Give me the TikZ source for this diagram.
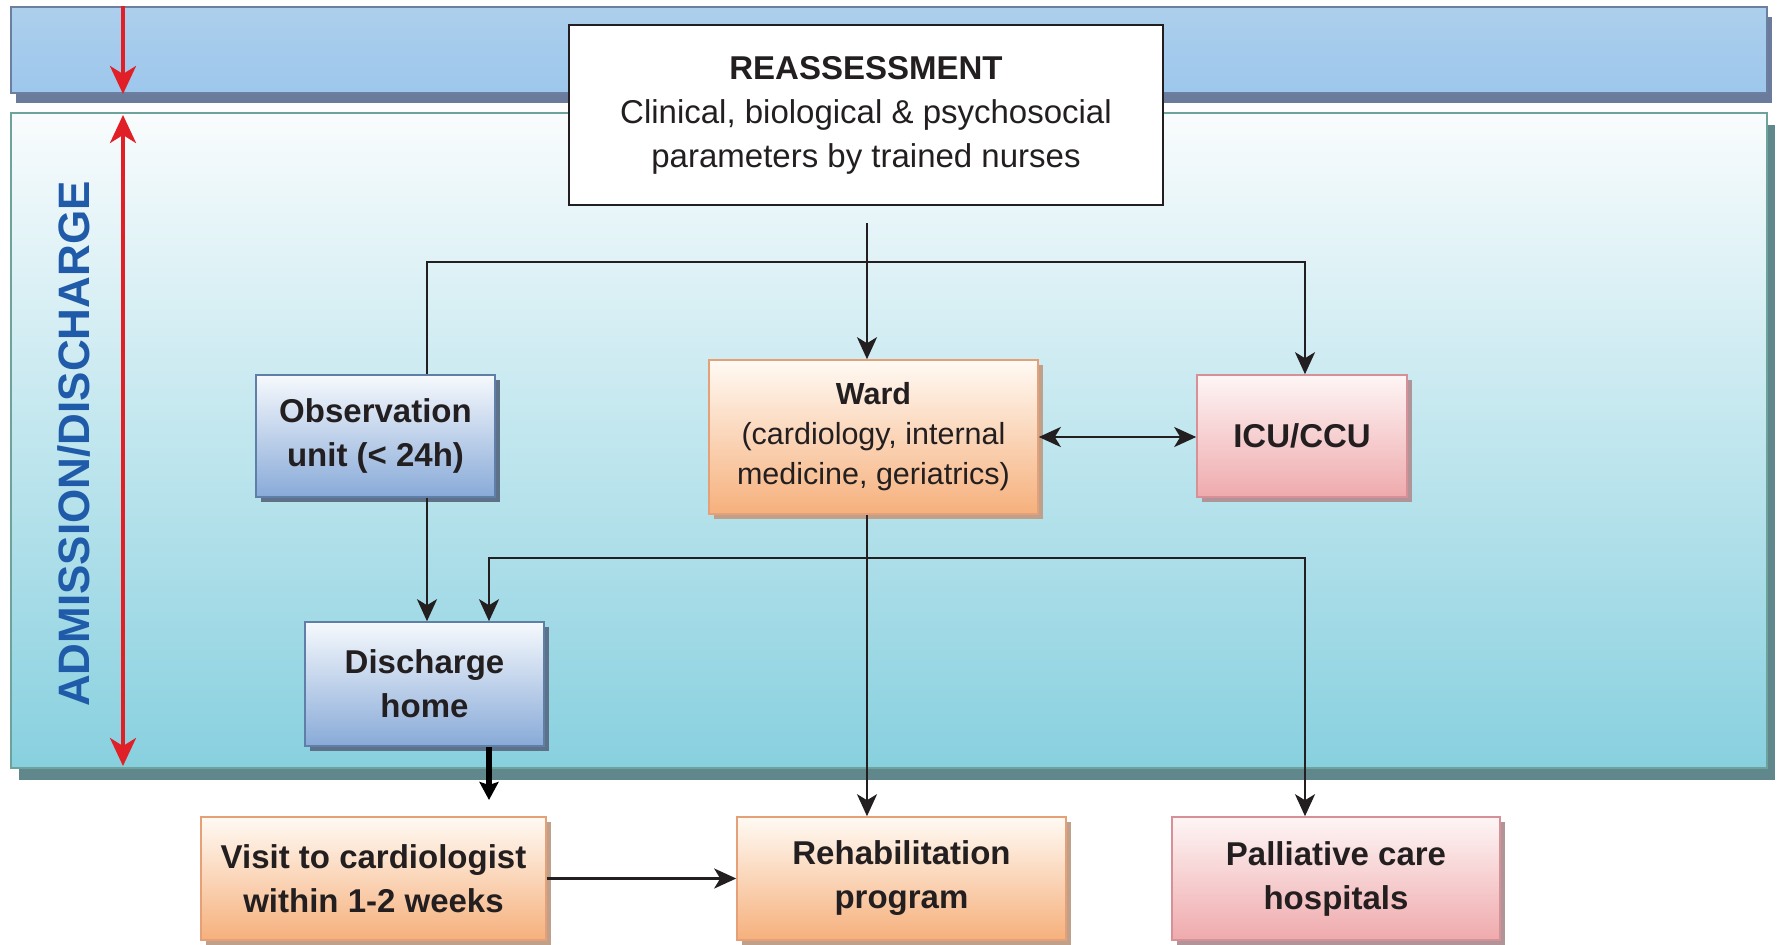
\documentclass[tikz,border=0pt]{standalone}
\usepackage{fontspec}
\setmainfont{Liberation Sans}
\usetikzlibrary{arrows.meta,fit,shadows,calc}

% palette
\definecolor{bandtop}{HTML}{ACCFEC}
\definecolor{bandbot}{HTML}{9DC7EC}
\definecolor{bandedge}{HTML}{6C7FA0}
\definecolor{bandshadow}{HTML}{6B7B9C}
\definecolor{stagetop}{HTML}{F9FCFD}
\definecolor{stagebot}{HTML}{88D0DF}
\definecolor{stageedge}{HTML}{6EA39C}
\definecolor{stageshadow}{HTML}{60878C}
\definecolor{bluetop}{HTML}{F6F9FD}
\definecolor{bluebot}{HTML}{88AAD8}
\definecolor{blueedge}{HTML}{5F7FA8}
\definecolor{blueshadow}{HTML}{5D7189}
\definecolor{orangetop}{HTML}{FFFAF4}
\definecolor{orangebot}{HTML}{F6B07C}
\definecolor{orangeedge}{HTML}{E6A077}
\definecolor{orangeshadow}{HTML}{BFA08A}
\definecolor{pinktop}{HTML}{FEF5F5}
\definecolor{pinkbot}{HTML}{EFAAAD}
\definecolor{pinkedge}{HTML}{D69098}
\definecolor{pinkshadow}{HTML}{B09497}
\definecolor{alarmred}{HTML}{E11F26}
\definecolor{admblue}{HTML}{1F5BA8}
\definecolor{ink}{HTML}{231F20}

\newcommand{\bodyfont}{\fontsize{16.5}{22}\selectfont}
\newcommand{\wardfont}{\fontsize{15.25}{20}\selectfont}

\tikzset{
  panel/.style={draw, line width=1pt, inner sep=0pt},
  bandpanel/.style={panel, draw=bandedge, top color=bandtop, bottom color=bandbot,
    drop shadow={shadow xshift=2.5pt, shadow yshift=-5pt, fill=bandshadow, opacity=1}},
  stagepanel/.style={panel, draw=stageedge, top color=stagetop, bottom color=stagebot,
    drop shadow={shadow xshift=4pt, shadow yshift=-6pt, fill=stageshadow, opacity=1}},
  boxsize/.style 2 args={minimum width=#1, minimum height=#2},
  card/.style={draw, line width=0.8pt, inner sep=0pt, align=center, font=\bodyfont\bfseries, text=ink},
  bluecard/.style={card, draw=blueedge, top color=bluetop, bottom color=bluebot,
    drop shadow={shadow xshift=2.5pt, shadow yshift=-2.5pt, fill=blueshadow, opacity=1}},
  orangecard/.style={card, draw=orangeedge, top color=orangetop, bottom color=orangebot,
    drop shadow={shadow xshift=2.5pt, shadow yshift=-2.5pt, fill=orangeshadow, opacity=1}},
  pinkcard/.style={card, draw=pinkedge, top color=pinktop, bottom color=pinkbot,
    drop shadow={shadow xshift=2.5pt, shadow yshift=-2.5pt, fill=pinkshadow, opacity=1}},
  whitecard/.style={draw=ink, line width=1.4pt, fill=white, inner sep=0pt, align=center,
    font=\bodyfont, text=ink},
  flow/.style={draw=ink, line width=1.3pt},
  thickflow/.style={draw=black, line width=2.6pt, -{Stealth[length=9pt,width=9.5pt,inset=1.5pt]}},
  redflow/.style={draw=alarmred, line width=1.8pt},
  >={Stealth[length=11pt,width=10pt,inset=3pt]},
}

\begin{document}
\begin{tikzpicture}[x=0.5pt,y=-0.5pt]
\useasboundingbox (0,0) rectangle (1784,944);

% background panels
\node[bandpanel, fit={(11,7) (1767,93)}] (band) {};
\node[stagepanel, fit={(11,113) (1767,768)}] (stage) {};

% admission/discharge span
\coordinate (rx) at (123,0);
\draw[redflow, -{Stealth[length=14pt,width=13pt,inset=4pt]}] (band.north -| rx) -- (band.south -| rx);
\draw[redflow, {Stealth[length=14pt,width=13pt,inset=4pt]}-{Stealth[length=14pt,width=13pt,inset=4pt]}]
  ([yshift=-1.5pt]stage.north -| rx) -- ([yshift=1.5pt]stage.south -| rx);
\node[rotate=90, font=\fontsize{22}{26}\selectfont\bfseries, text=admblue] (adm) at (74,444) {ADMISSION/DISCHARGE};

% boxes
\node[whitecard, boxsize={297pt}{90pt}] (reass) at (866,115)
  {\textbf{REASSESSMENT}\\Clinical, biological \& psychosocial\\parameters by trained nurses};
\node[bluecard, boxsize={119.5pt}{61pt}] (obs) at (375.5,436) {Observation\\unit (< 24h)};
\node[orangecard, boxsize={164.5pt}{77pt}, font=\wardfont] (ward) at (873.5,437)
  {\textbf{Ward}\\(cardiology, internal\\medicine, geriatrics)};
\node[pinkcard, boxsize={105pt}{61pt}] (icu) at (1302,436) {ICU/CCU};
\node[bluecard, boxsize={119.5pt}{62pt}] (dis) at (424.5,684) {Discharge\\home};
\node[orangecard, boxsize={172.5pt}{61.5pt}] (visit) at (373.5,878.5) {Visit to cardiologist\\within 1-2 weeks};
\node[orangecard, boxsize={164.5pt}{61.5pt}] (rehab) at (901.5,878.5) {Rehabilitation\\program};
\node[pinkcard, boxsize={164pt}{61.5pt}] (pall) at (1336,878.5) {Palliative care\\hospitals};

% routing points
\coordinate (split) at (867,262);
\coordinate (topl) at (427,262);
\coordinate (topr) at (1305,262);
\coordinate (midl) at (489,558);
\coordinate (midr) at (1305,558);
\coordinate (rgap) at ($(reass.south -| split)+(0,17)$);
\coordinate (disend) at (489,800);

% connectors
\draw[flow, ->] (rgap) -- (ward.north -| split);
\draw[flow, ->] (obs.north -| topl) -- (topl) -- (topr) -- (icu.north -| topr);
\draw[flow, <->] (ward.east) -- (ward.east -| icu.west);
\draw[flow, ->] (obs.south -| topl) -- (dis.north -| topl);
\draw[flow, ->] (ward.south -| split) -- (rehab.north -| split);
\draw[flow, <->] (dis.north -| midl) -- (midl) -- (midr) -- (pall.north -| midr);
\draw[thickflow] (dis.south -| midl) -- (disend);
\draw[flow, ->] (visit.east) -- (visit.east -| rehab.west);

\end{tikzpicture}
\end{document}
